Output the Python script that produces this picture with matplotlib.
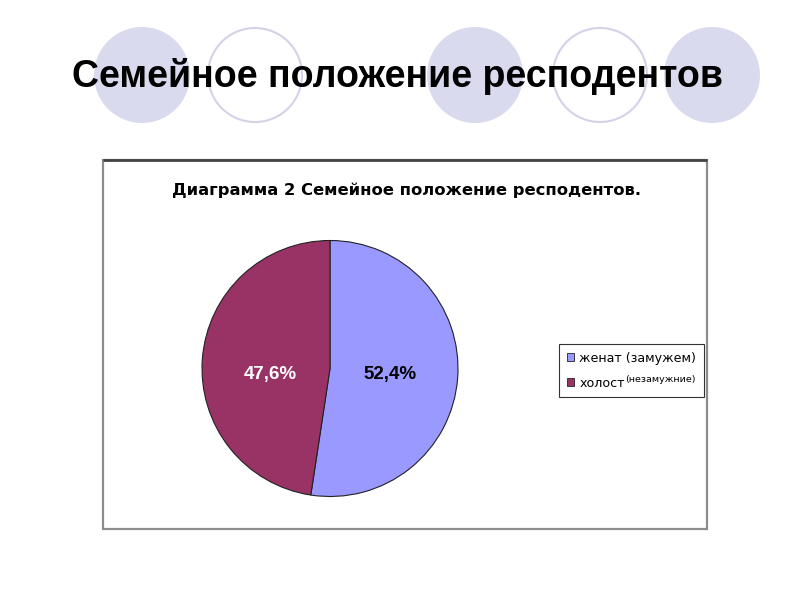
import matplotlib
matplotlib.use('Agg')
import matplotlib.pyplot as plt
from matplotlib.patches import Ellipse, Rectangle

# ---- data ----
categories = ['женат (замужем)', 'холост']
category_notes = ['', '(незамужние)']
shares = [52.4, 47.6]
slice_colors = ['#9999FF', '#993366']
label_colors = ['black', 'white']
slide_title = 'Семейное положение респодентов'
chart_title = 'Диаграмма 2 Семейное положение респодентов.'

W, H = 800, 600
fig = plt.figure(figsize=(W / 100, H / 100), dpi=100)
fig.patch.set_facecolor('white')

bg = fig.add_axes([0, 0, 1, 1])
bg.set_xlim(0, W)
bg.set_ylim(H, 0)
bg.axis('off')

# decorative circles behind the slide title
deco = [(142, True), (255, False), (475, True), (600, False), (712, True)]
for cx, filled in deco:
    if filled:
        bg.add_patch(Ellipse((cx, 75), 96, 96, facecolor='#DADAEE', edgecolor='none', zorder=1))
    else:
        bg.add_patch(Ellipse((cx, 75), 94, 94, facecolor='white', edgecolor='#D2D2E8',
                             linewidth=1.5, zorder=1))

bg.text(398, 87, slide_title, ha='center', va='baseline', fontsize=27,
        fontweight='bold', family='Liberation Sans', color='black', zorder=3)

# chart area box
bg.add_patch(Rectangle((103, 160), 604, 369, facecolor='white', edgecolor='#8C8C8C',
                       linewidth=1.6, zorder=2))
bg.plot([103, 707], [160, 160], color='#444444', linewidth=2.0, zorder=3,
        solid_capstyle='butt')

bg.text(406, 195, chart_title, ha='center', va='baseline', fontsize=11.8,
        fontweight='bold', family='DejaVu Sans', color='black', zorder=3)

# pie
cx, cy, r = 330, 368.5, 128
pa = fig.add_axes([(cx - r) / W, (H - cy - r) / H, 2 * r / W, 2 * r / H])


def fmt(p):
    return f'{p:.1f}%'.replace('.', ',')


wedges, texts, autotexts = pa.pie(
    shares, colors=slice_colors, startangle=90, counterclock=False,
    autopct=fmt, pctdistance=0.47,
    wedgeprops=dict(edgecolor='#222222', linewidth=0.8),
    textprops=dict(fontsize=13.5, fontweight='bold', family='Liberation Sans'))
pa.set_xlim(-1, 1)
pa.set_ylim(-1, 1)
pa.set_aspect('equal')
pa.axis('off')
for w in wedges:
    w.set_clip_on(False)
for t, c in zip(autotexts, label_colors):
    t.set_color(c)
    x, y = t.get_position()
    t.set_position((x, -0.05))

# legend
leg = fig.legend(wedges, categories, loc='upper left',
                 bbox_to_anchor=(559 / W, 1 - 344 / H), bbox_transform=fig.transFigure,
                 frameon=True, fancybox=False, edgecolor='black',
                 prop=dict(family='DejaVu Sans', size=9.1),
                 handlelength=0.6, handleheight=0.6, handletextpad=0.4,
                 borderpad=0.6, labelspacing=0.95, borderaxespad=0)
leg.get_frame().set_linewidth(0.8)
leg.set_zorder(5)
for h in leg.legend_handles:
    h.set_linewidth(0.6)
    h.set_edgecolor('#222222')

for txt, note in zip(leg.get_texts(), category_notes):
    if note:
        fig.add_artist(plt.Annotation(note, xy=(1, 1.15), xycoords=txt,
                                      xytext=(0.5, 0), textcoords='offset points',
                                      fontsize=6.8, family='DejaVu Sans',
                                      ha='left', va='top', zorder=10))

fig.savefig('out.png', dpi=100, facecolor='white')
